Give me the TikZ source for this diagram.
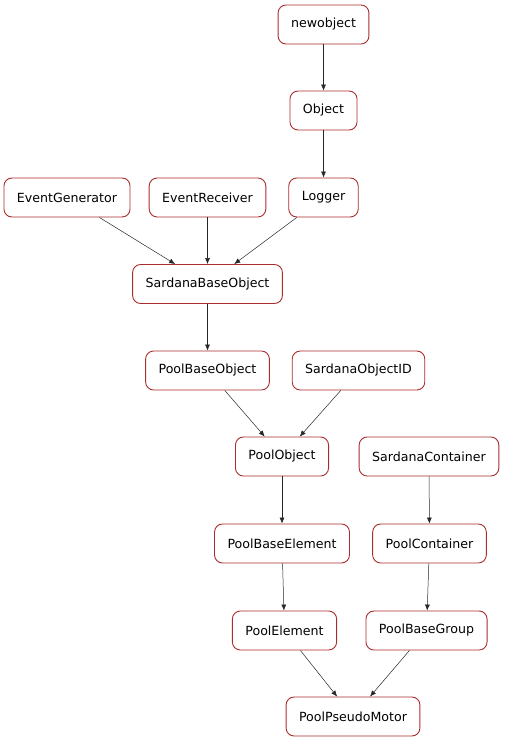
\documentclass[tikz,border=0pt]{standalone}
\usepackage{fontspec}
\setmainfont{DejaVu Sans}
\usetikzlibrary{arrows.meta}
\definecolor{boxred}{RGB}{170,45,45}
\begin{document}
\begin{tikzpicture}[x=1pt, y=-1pt,
  cls/.style={draw=boxred, line width=0.9pt, rounded corners=8pt, fill=white,
    minimum height=39pt, inner xsep=13pt, font=\fontsize{12.6}{15}\selectfont},
  inh/.style={draw=black!85, line width=0.5pt, -{Latex[length=6pt,width=5pt]}}]
\useasboundingbox (0,0) rectangle (504,743);
% classes
\node[cls] (newobject) at (323.5,24.5) {newobject};
\node[cls] (Object) at (323.5,110.5) {Object};
\node[cls] (EventGenerator) at (67,197.5) {EventGenerator};
\node[cls] (EventReceiver) at (207.5,197.5) {EventReceiver};
\node[cls] (Logger) at (323.5,197.5) {Logger};
\node[cls] (SardanaBaseObject) at (207.5,284) {SardanaBaseObject};
\node[cls] (PoolBaseObject) at (207.5,370.5) {PoolBaseObject};
\node[cls] (SardanaObjectID) at (358.5,370.5) {SardanaObjectID};
\node[cls] (PoolObject) at (282,456.5) {PoolObject};
\node[cls] (SardanaContainer) at (429,456.5) {SardanaContainer};
\node[cls] (PoolBaseElement) at (282,543.5) {PoolBaseElement};
\node[cls] (PoolContainer) at (429.5,543.5) {PoolContainer};
\node[cls] (PoolElement) at (284.5,630.5) {PoolElement};
\node[cls] (PoolBaseGroup) at (426.5,630.5) {PoolBaseGroup};
\node[cls] (PoolPseudoMotor) at (353,716.5) {PoolPseudoMotor};
% inheritance
\draw[inh] (newobject) -- (Object);
\draw[inh] (Object) -- (Logger);
\draw[inh] (EventGenerator) -- (SardanaBaseObject);
\draw[inh] (EventReceiver) -- (SardanaBaseObject);
\draw[inh] (Logger) -- (SardanaBaseObject);
\draw[inh] (SardanaBaseObject) -- (PoolBaseObject);
\draw[inh] (PoolBaseObject) -- (PoolObject);
\draw[inh] (SardanaObjectID) -- (PoolObject);
\draw[inh] (PoolObject) -- (PoolBaseElement);
\draw[inh] (SardanaContainer) -- (PoolContainer);
\draw[inh] (PoolBaseElement) -- (PoolElement);
\draw[inh] (PoolContainer) -- (PoolBaseGroup);
\draw[inh] (PoolElement) -- (PoolPseudoMotor);
\draw[inh] (PoolBaseGroup) -- (PoolPseudoMotor);
\end{tikzpicture}
\end{document}
